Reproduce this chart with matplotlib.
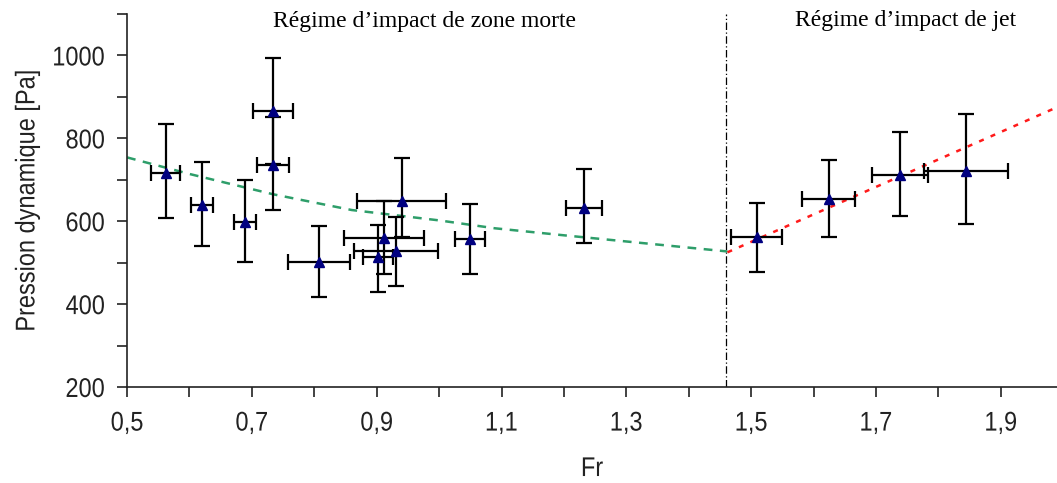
import matplotlib
matplotlib.use("Agg")
import matplotlib.pyplot as plt
from matplotlib.patheffects import AbstractPathEffect
from matplotlib.transforms import Affine2D

# Measured Froude numbers and dynamic pressures with their uncertainties
fr = [0.562, 0.620, 0.689, 0.734, 0.734, 0.808, 0.902, 0.911, 0.931, 0.940,
      1.049, 1.232, 1.509, 1.624, 1.738, 1.844]
pression = [716, 639, 597, 866, 736, 502, 513, 560, 527, 649,
            556, 633, 561, 653, 712, 721]
err_p_bas = [109, 99, 96, 129, 109, 84, 85, 88, 83, 88, 84, 85, 84, 90, 100, 128]
err_p_haut = [119, 104, 102, 129, 115, 86, 78, 88, 84, 103, 85, 94, 84, 94, 103, 138]
err_fr = [0.023, 0.017, 0.017, 0.032, 0.026, 0.050, 0.024, 0.064, 0.068, 0.071,
          0.024, 0.029, 0.041, 0.043, 0.045, 0.067]

# Trend curves of both regimes
tendance_morte_fr = [0.5, 0.6, 0.734, 0.86, 1.0, 1.089, 1.2, 1.321, 1.462]
tendance_morte_p = [754, 714, 665, 627, 602, 583, 566, 548, 527]
tendance_jet_fr = [1.462, 1.99]
tendance_jet_p = [525, 875]

fr_transition = 1.46

xticks = [0.5, 0.7, 0.9, 1.1, 1.3, 1.5, 1.7, 1.9]
xtick_labels = ["0,5", "0,7", "0,9", "1,1", "1,3", "1,5", "1,7", "1,9"]
yticks = [200, 400, 600, 800, 1000]


class Squeeze(AbstractPathEffect):
    """Condense glyphs horizontally (along the text direction)."""

    def __init__(self, sx=0.87, anchor="center"):
        super().__init__()
        self.sx = sx
        self.anchor = anchor

    def draw_path(self, renderer, gc, tpath, affine, rgbFace=None):
        ext = tpath.get_extents()
        cx = ext.x1 if self.anchor == "right" else 0.5 * (ext.x0 + ext.x1)
        t = Affine2D().translate(-cx, 0).scale(self.sx, 1).translate(cx, 0) + affine
        renderer.draw_path(gc, tpath, t, rgbFace)


sans = ["Liberation Sans", "DejaVu Sans"]
serif = ["Liberation Serif", "DejaVu Serif"]
txt_color = "#222222"
fs = 19.5

fig = plt.figure(figsize=(10.57, 4.83), dpi=100)
ax = fig.add_axes([0.1202, 0.1988, 0.8798, 0.7722])

ax.plot(tendance_morte_fr, tendance_morte_p, color="#2e9e6a", lw=1.8,
        dashes=(3.5, 3.0), zorder=2)
ax.plot(tendance_jet_fr, tendance_jet_p, color="#ff1a1a", lw=1.8,
        dashes=(2.0, 3.0), zorder=2)
ax.axvline(fr_transition, color="black", lw=0.9, dashes=(6, 2, 1, 2), zorder=1)

ax.errorbar(fr, pression, yerr=[err_p_bas, err_p_haut], xerr=err_fr,
            fmt="none", ecolor="black", elinewidth=1.6, capsize=5.5,
            capthick=1.6, zorder=3)
ax.plot(fr, pression, linestyle="none", marker="^", color="#000080",
        markersize=7, zorder=4)

ax.set_xlim(0.5, 1.99)
ax.set_ylim(200, 1100)
ax.set_xticks(xticks)
ax.set_xticklabels(xtick_labels, family=sans, fontsize=fs)
ax.set_xticks([0.6, 0.8, 1.0, 1.2, 1.4, 1.6, 1.8], minor=True)
ax.set_yticks(yticks)
ax.set_yticklabels([str(v) for v in yticks], family=sans, fontsize=fs)
ax.set_yticks([300, 500, 700, 900, 1100], minor=True)
ax.tick_params(which="both", direction="out", length=7, width=1.2,
               color=txt_color, labelcolor=txt_color)
ax.tick_params(axis="x", which="major", pad=10)
ax.tick_params(axis="y", which="major", pad=9)

for lbl in ax.get_xticklabels():
    lbl.set_path_effects([Squeeze(0.87, "center")])
for lbl in ax.get_yticklabels():
    lbl.set_path_effects([Squeeze(0.87, "right")])

for side in ("top", "right"):
    ax.spines[side].set_visible(False)
for side in ("left", "bottom"):
    ax.spines[side].set_linewidth(1.2)
    ax.spines[side].set_color(txt_color)

xl = ax.set_xlabel("Fr", family=sans, fontsize=fs, color=txt_color, labelpad=14)
yl = ax.set_ylabel("Pression dynamique [Pa]", family=sans, fontsize=fs,
                   color=txt_color, labelpad=3)
xl.set_path_effects([Squeeze(0.87)])
yl.set_path_effects([Squeeze(0.87)])

ax.text(0.977, 1083, "Régime d’impact de zone morte", family=serif,
        fontsize=17, ha="center", va="center")
ax.text(1.747, 1085, "Régime d’impact de jet", family=serif,
        fontsize=17, ha="center", va="center")

fig.savefig("out.png", dpi=100)
